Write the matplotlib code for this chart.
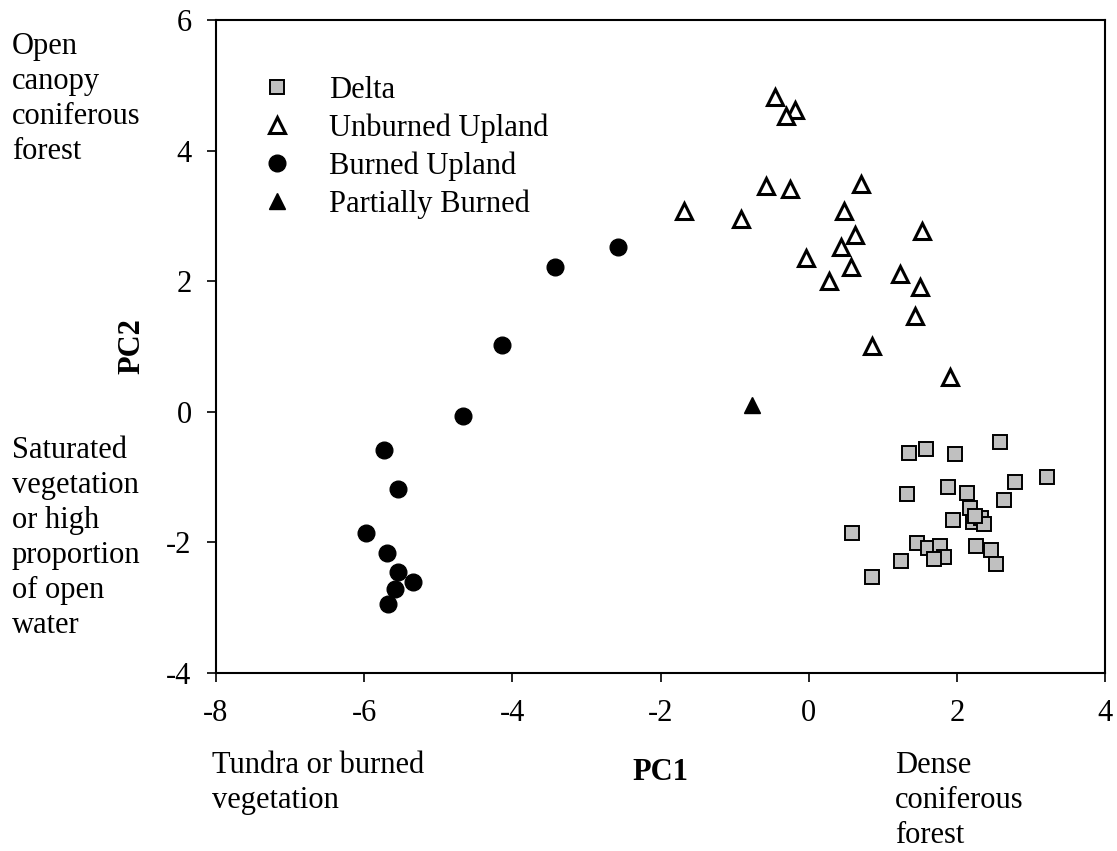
import matplotlib
matplotlib.use("Agg")
import matplotlib.pyplot as plt

plt.rcParams['font.family'] = ['Liberation Serif', 'DejaVu Serif']
plt.rcParams['axes.unicode_minus'] = False

# PCA scores
delta_x = [1.35, 1.58, 1.97, 2.58, 2.79, 3.22, 1.33, 1.88, 2.14, 2.63, 2.18, 1.95, 2.22,
           2.32, 2.37, 2.24, 0.59, 1.46, 1.61, 1.77, 1.82, 1.69, 2.26, 2.46, 2.53, 1.25, 0.85]
delta_y = [-0.63, -0.57, -0.64, -0.47, -1.07, -1.00, -1.26, -1.15, -1.24, -1.35, -1.47, -1.65, -1.69,
           -1.62, -1.72, -1.60, -1.85, -2.01, -2.08, -2.05, -2.23, -2.25, -2.06, -2.11, -2.33, -2.29, -2.53]

unburned_x = [-0.45, -0.18, -0.31, -0.57, -0.25, 0.70, -1.69, -0.92, 0.47, 0.62,
              1.53, 0.43, -0.03, 0.57, 0.28, 1.23, 1.50, 1.44, 0.85, 1.91]
unburned_y = [4.82, 4.62, 4.53, 3.46, 3.41, 3.49, 3.07, 2.95, 3.07, 2.70,
              2.77, 2.52, 2.35, 2.22, 2.01, 2.11, 1.91, 1.47, 1.01, 0.54]

burned_x = [-2.57, -3.42, -4.14, -4.67, -5.73, -5.55, -5.98, -5.69, -5.55, -5.34, -5.58, -5.68]
burned_y = [2.52, 2.22, 1.03, -0.06, -0.59, -1.19, -1.85, -2.17, -2.45, -2.60, -2.71, -2.95]

partial_x = [-0.77]
partial_y = [0.11]

fig = plt.figure(figsize=(11.17, 8.51), dpi=100)
ax = fig.add_axes([0.1934, 0.2092, 0.7959, 0.7673])

ax.plot(delta_x, delta_y, 's', ms=10, mfc='#c0c0c0', mec='black', mew=1.4, label='Delta')
ax.plot(unburned_x, unburned_y, '^', ms=12, mfc='white', mec='black', mew=2.2, label='Unburned Upland')
ax.plot(burned_x, burned_y, 'o', ms=12, mfc='black', mec='black', label='Burned Upland')
ax.plot(partial_x, partial_y, '^', ms=12, mfc='black', mec='black', label='Partially Burned')

ax.set_xlim(-8, 4)
ax.set_ylim(-4, 6)
ax.set_xticks([-8, -6, -4, -2, 0, 2, 4])
ax.set_yticks([-4, -2, 0, 2, 4, 6])
ax.tick_params(direction='out', length=6.5, width=1.2, labelsize=22, top=False, right=False)
ax.tick_params(axis='x', pad=12)
ax.tick_params(axis='y', pad=11)
for s in ax.spines.values():
    s.set_linewidth(1.5)

ax.set_xlabel('PC1', fontsize=22, fontweight='bold', labelpad=22)
ax.set_ylabel('PC2', fontsize=22, fontweight='bold')
ax.yaxis.set_label_coords((146 - 216) / 889.0, 0.5)

ax.legend(loc='upper left', bbox_to_anchor=(262 / 1117, 1 - 76 / 851), bbox_transform=fig.transFigure,
          frameon=False, fontsize=22, handlelength=1.0, handletextpad=1.2, labelspacing=0.28,
          borderpad=0, borderaxespad=0)

ls = 1.27
fig.text(12 / 1117, 1 - 32 / 851, 'Open\ncanopy\nconiferous\nforest', fontsize=22, va='top', ha='left', linespacing=ls)
fig.text(12 / 1117, 1 - 436 / 851, 'Saturated\nvegetation\nor high\nproportion\nof open\nwater', fontsize=22,
         va='top', ha='left', linespacing=ls)
fig.text(212 / 1117, 1 - 751 / 851, 'Tundra or burned\nvegetation', fontsize=22, va='top', ha='left', linespacing=ls)
fig.text(895 / 1117, 1 - 751 / 851, 'Dense\nconiferous\nforest', fontsize=22, va='top', ha='left', linespacing=ls)

fig.savefig('out.png', dpi=100)
